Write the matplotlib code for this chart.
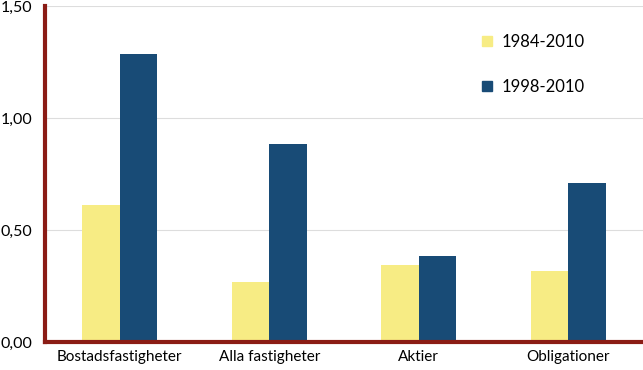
import numpy as np
import matplotlib.pyplot as plt
from matplotlib.patches import Patch

plt.rcParams['font.family'] = ['Lato', 'DejaVu Sans']

categories = ["Bostadsfastigheter", "Alla fastigheter", "Aktier", "Obligationer"]
series_names = ["1984-2010", "1998-2010"]
vals_1984 = [0.61, 0.27, 0.345, 0.315]
vals_1998 = [1.285, 0.885, 0.385, 0.71]
yticks = [0.0, 0.5, 1.0, 1.5]
ytick_labels = ["0,00", "0,50", "1,00", "1,50"]

yellow = "#F7EC84"
blue = "#184B76"
axis_red = "#8B1C15"

fig = plt.figure(figsize=(6.43, 3.70), dpi=100)
ax = fig.add_axes([45 / 643, 28 / 370, 598 / 643, 336 / 370])

x = np.arange(len(categories))
w = 0.25
ax.bar(x - w / 2, vals_1984, width=w, color=yellow, label=series_names[0], zorder=2)
ax.bar(x + w / 2, vals_1998, width=w, color=blue, label=series_names[1], zorder=2)

ax.set_xlim(-0.5, 3.5)
ax.set_ylim(0, 1.5)
ax.set_yticks(yticks)
ax.set_yticklabels(ytick_labels, fontsize=11.5)
ax.set_xticks(x)
ax.set_xticklabels(categories, fontsize=11)
ax.tick_params(axis="both", length=0, pad=6)
ax.tick_params(axis="y", pad=9)
ax.grid(axis="y", color="#DDDDDD", linewidth=0.8, zorder=0)

for s in ["top", "right"]:
    ax.spines[s].set_visible(False)
for s in ["left", "bottom"]:
    ax.spines[s].set_color(axis_red)
    ax.spines[s].set_linewidth(3)
    ax.spines[s].set_zorder(3)

handles = [Patch(color=yellow), Patch(color=blue)]
ax.legend(handles, series_names, loc="upper left", bbox_to_anchor=(0.705, 0.962),
          frameon=False, fontsize=12, handlelength=0.6, handleheight=0.6,
          labelspacing=1.75, handletextpad=0.6)

fig.savefig("out.png", dpi=100)
